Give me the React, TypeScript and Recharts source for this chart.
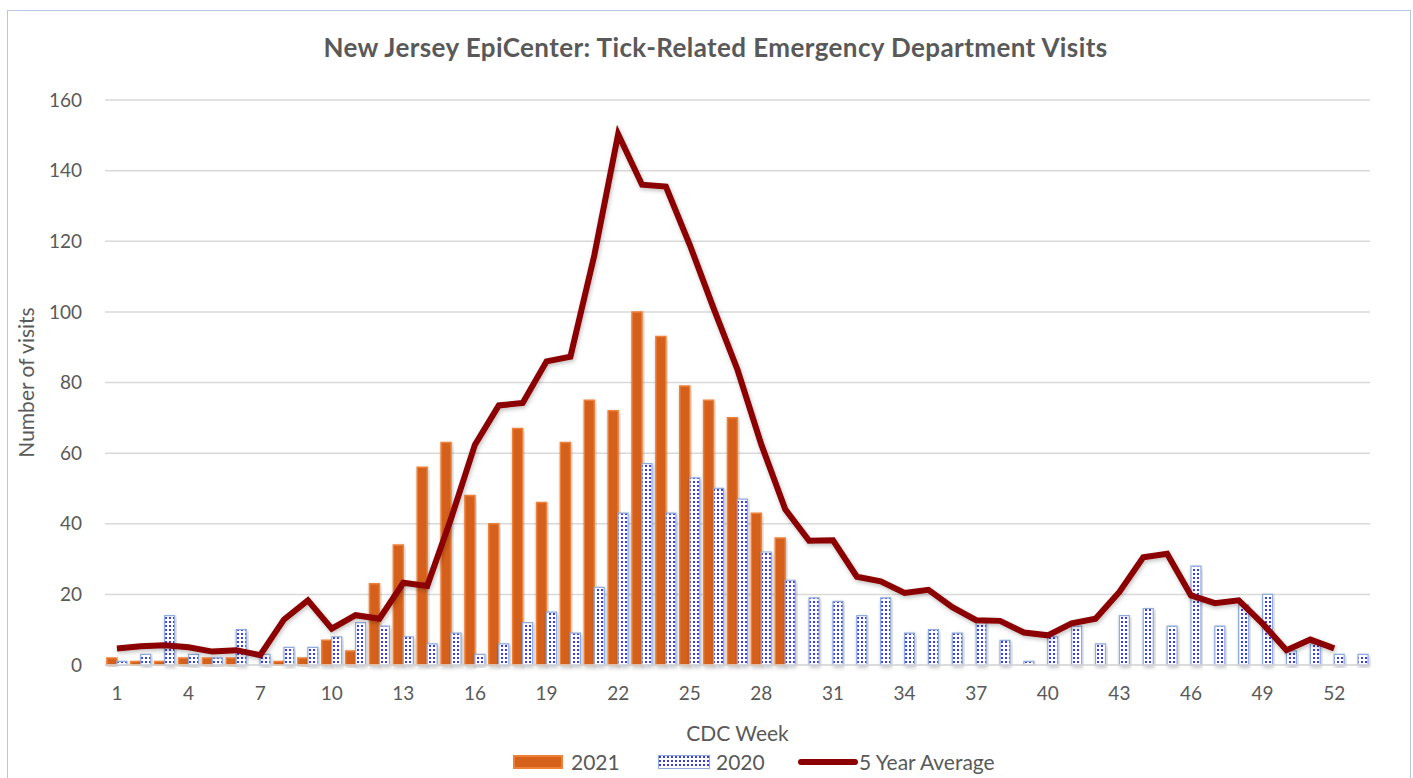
import { Bar, CartesianGrid, ComposedChart, Legend, Line, XAxis, YAxis } from "recharts";

const weeks = [
  1, 2, 3, 4, 5, 6, 7, 8, 9, 10, 11, 12, 13, 14, 15, 16, 17, 18, 19, 20, 21, 22, 23, 24, 25, 26,
  27, 28, 29, 30, 31, 32, 33, 34, 35, 36, 37, 38, 39, 40, 41, 42, 43, 44, 45, 46, 47, 48, 49, 50,
  51, 52, 53,
];

// 2021 only runs through week 29
const visits2021 = [
  2, 1, 1, 2, 2, 2, 0, 1, 2, 7, 4, 23, 34, 56, 63, 48, 40, 67, 46, 63, 75, 72, 100, 93, 79, 75, 70,
  43, 36,
];

const visits2020 = [
  1, 3, 14, 3, 2, 10, 3, 5, 5, 8, 12, 11, 8, 6, 9, 3, 6, 12, 15, 9, 22, 43, 57, 43, 53, 50, 47, 32,
  24, 19, 18, 14, 19, 9, 10, 9, 12, 7, 1, 8, 11, 6, 14, 16, 11, 28, 11, 17, 20, 4, 6, 3, 3,
];

const fiveYearAvg = [
  4.7, 5.3, 5.6, 5.0, 3.8, 4.2, 2.8, 12.9, 18.3, 10.3, 14.1, 13.1, 23.3, 22.4, 41.5, 62.4, 73.5,
  74.2, 86, 87.3, 116, 150.3, 136, 135.5, 119, 101, 83.6, 62.4, 44.1, 35.2, 35.3, 25, 23.7, 20.4,
  21.3, 16.4, 12.7, 12.5, 9.2, 8.4, 11.8, 13.1, 20.7, 30.5, 31.5, 19.7, 17.5, 18.3, 11.7, 4.2, 7.2,
  4.7,
];

const yTicks = [0, 20, 40, 60, 80, 100, 120, 140, 160];

const data = weeks.map((week, i) => ({
  week,
  y2021: visits2021[i] ?? null,
  y2020: visits2020[i] ?? null,
  avg: fiveYearAvg[i] ?? null,
}));

const FONT = "Lato, 'Open Sans', sans-serif";
const TEXT = "#595959";
const ORANGE = "#d5611a";
const ORANGE_EDGE = "#ee8038";
const DOT_EDGE = "#8faadc";
const DARK_RED = "#8b0000";

function ChartLegend() {
  const label = { position: "absolute" as const, top: 0, lineHeight: "24px" };
  return (
    <div style={{ position: "relative", height: 24, width: 1413, fontFamily: FONT, fontSize: 21, color: TEXT }}>
      <span
        style={{
          position: "absolute", left: 513, top: 5, width: 50, height: 14,
          background: ORANGE, border: `2px solid ${ORANGE_EDGE}`, boxSizing: "border-box",
        }}
      />
      <span style={{ ...label, left: 571 }}>2021</span>
      <svg style={{ position: "absolute", left: 658, top: 5 }} width={52} height={14}>
        <rect x={0.5} y={0.5} width={51} height={13} fill="url(#dots)" stroke={DOT_EDGE} />
      </svg>
      <span style={{ ...label, left: 716 }}>2020</span>
      <svg style={{ position: "absolute", left: 798, top: 7 }} width={60} height={10}>
        <line x1={3} y1={5} x2={57} y2={5} stroke={DARK_RED} strokeWidth={6} strokeLinecap="round" />
      </svg>
      <span style={{ ...label, left: 859 }}>5 Year Average</span>
    </div>
  );
}

export default function App() {
  return (
    <div style={{ position: "absolute", left: 0, top: 0, width: 1413, height: 778, background: "#fff" }}>
      <div
        style={{
          position: "absolute", left: 7, top: 10, width: 1404, height: 780,
          border: "1.5px solid #b4c7e7", boxSizing: "border-box",
        }}
      />
      <div
        style={{
          position: "absolute", left: 0, top: 31, width: 1431, textAlign: "center",
          fontFamily: FONT, fontWeight: 700, fontSize: 26, letterSpacing: 0.4, color: TEXT,
        }}
      >
        New Jersey EpiCenter: Tick-Related Emergency Department Visits
      </div>
      <div style={{ position: "absolute", left: 0, top: 0 }}>
        <ComposedChart
          width={1413}
          height={778}
          data={data}
          margin={{ top: 100, right: 43, bottom: 4, left: 0 }}
          barCategoryGap="8%"
          barGap={0}
        >
          <defs>
            <pattern id="dots" width={4} height={4} patternUnits="userSpaceOnUse">
              <rect width={4} height={4} fill="#ffffff" />
              <rect x={1} y={1} width={2} height={2} fill="#3a3af5" />
            </pattern>
            <filter id="shadow" x="-20%" y="-20%" width="140%" height="140%">
              <feDropShadow dx={1} dy={2} stdDeviation={2} floodColor="#000" floodOpacity={0.25} />
            </filter>
          </defs>
          <CartesianGrid vertical={false} stroke="#d9d9d9" strokeWidth={1.5} />
          <XAxis
            dataKey="week"
            interval={2}
            tickLine={false}
            axisLine={{ stroke: "#d9d9d9", strokeWidth: 1.5 }}
            tickMargin={16}
            height={85}
            tick={{ fill: TEXT, fontSize: 19, fontFamily: FONT }}
            label={{
              value: "CDC Week",
              position: "insideBottom",
              offset: 9,
              fill: TEXT,
              fontSize: 21,
              fontFamily: FONT,
            }}
          />
          <YAxis
            domain={[0, 160]}
            ticks={yTicks}
            width={105}
            tickLine={false}
            axisLine={false}
            tickMargin={17}
            tick={{ fill: TEXT, fontSize: 19, fontFamily: FONT }}
            label={{
              value: "Number of visits",
              angle: -90,
              position: "insideLeft",
              offset: 27,
              fill: TEXT,
              fontSize: 21,
              fontFamily: FONT,
              style: { textAnchor: "middle" },
            }}
          />
          <Legend verticalAlign="bottom" wrapperStyle={{ left: 0, width: 1413 }} content={() => <ChartLegend />} />
          <Bar
            dataKey="y2021"
            name="2021"
            fill={ORANGE}
            stroke={ORANGE_EDGE}
            strokeWidth={1.5}
            style={{ filter: "url(#shadow)" }}
            isAnimationActive={false}
          />
          <Bar
            dataKey="y2020"
            name="2020"
            fill="url(#dots)"
            stroke={DOT_EDGE}
            strokeWidth={1.2}
            style={{ filter: "url(#shadow)" }}
            isAnimationActive={false}
          />
          <Line
            dataKey="avg"
            name="5 Year Average"
            type="linear"
            stroke={DARK_RED}
            strokeWidth={6}
            dot={false}
            activeDot={false}
            style={{ filter: "url(#shadow)" }}
            isAnimationActive={false}
          />
        </ComposedChart>
      </div>
    </div>
  );
}
